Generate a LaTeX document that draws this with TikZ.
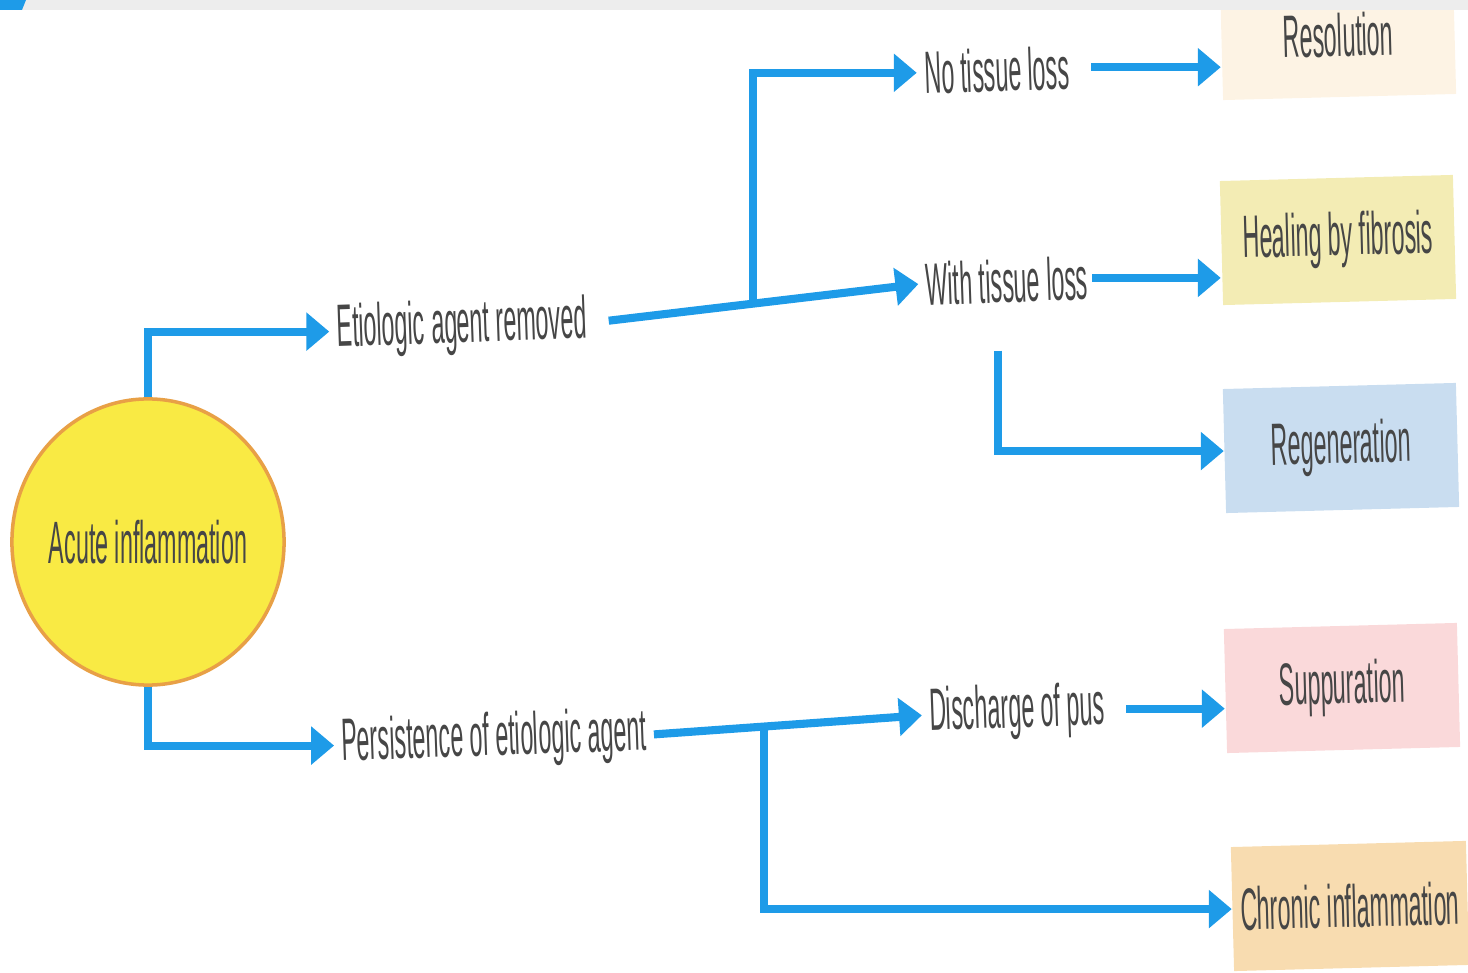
\documentclass[tikz,border=0pt]{standalone}
\usepackage{fontspec}
\setmainfont{Liberation Sans}
\newfontfamily\narrowfont[FakeStretch=0.39]{Liberation Sans}
\usetikzlibrary{positioning,arrows.meta,calc,shapes.geometric}

\definecolor{flowblue}{RGB}{30,155,232}
\definecolor{txtgray}{RGB}{70,70,70}
\definecolor{stripgray}{RGB}{237,237,237}
\definecolor{acuteyellow}{RGB}{249,234,68}
\definecolor{acuterim}{RGB}{232,160,70}
\definecolor{resolfill}{RGB}{253,243,228}
\definecolor{healfill}{RGB}{243,236,180}
\definecolor{regenfill}{RGB}{201,221,240}
\definecolor{suppfill}{RGB}{250,217,218}
\definecolor{chronfill}{RGB}{248,220,176}

\begin{document}
\begin{tikzpicture}[
  x=0.01cm, y=-0.01cm,
  font=\narrowfont\fontsize{17}{20}\selectfont,
  >={Triangle[length=6.5pt,width=10.5pt]},
  flowarrow/.style={->, draw=flowblue, line width=2.3pt},
  steplabel/.style={text=txtgray, inner sep=2pt, rotate=2},
  outcome/.style={minimum width=2.33cm, minimum height=1.24cm, inner sep=0pt, text=txtgray, rotate=1.5}
]
  \useasboundingbox (0,0) rectangle (1468,973);

  % start
  \node[ellipse, draw=acuterim, line width=1pt, fill=acuteyellow, text=txtgray,
        inner xsep=-1.5pt, inner ysep=0pt,
        minimum width=2.72cm, minimum height=2.86cm] (acute) at (148,542) {Acute inflammation};

  % intermediate steps
  \node[steplabel] (removed) at (462,327) {Etiologic agent removed};
  \node[steplabel] (persist) at (494,740) {Persistence of etiologic agent};
  \node[steplabel] (notissue) at (997,70) {No tissue loss};
  \node[steplabel] (withloss) at (1007,281) {With tissue loss};
  \node[steplabel] (discharge) at (1017,712) {Discharge of pus};

  % outcomes
  \node[outcome, fill=resolfill] (resol) at (1338,35) {Resolution};
  \node[outcome, fill=healfill] (heal) at (1338,240) {Healing by fibrosis};
  \node[outcome, fill=regenfill] (regen) at (1341,448) {Regeneration};
  \node[outcome, fill=suppfill] (supp) at (1342,688) {Suppuration};
  \node[outcome, fill=chronfill, minimum width=2.35cm] (chron) at (1350,906) {Chronic inflammation};

  % branch points
  \coordinate (upsplit) at ($(removed.east)!0.49!(withloss.west)$);
  \coordinate (lowsplit) at ($(persist.east)!0.41!(discharge.west)$);
  \coordinate (regtop) at ($(withloss.south)+(-10,40)$);

  \draw[flowarrow] (acute.north) |- (removed.west);
  \draw[flowarrow] (acute.south) |- (persist.west);
  \draw[flowarrow, shorten <=4pt] (removed.east) -- (withloss.west);
  \draw[flowarrow] (upsplit) |- (notissue.west);
  \draw[flowarrow, shorten <=4pt] (notissue.east) -- (notissue.east -| resol.west);
  \draw[flowarrow, shorten <=-1pt] (withloss.east) -- (withloss.east -| heal.west);
  \draw[flowarrow] (regtop) |- (regen.west);
  \draw[flowarrow] (persist.east) -- (discharge.west);
  \draw[flowarrow] (lowsplit) |- (chron.west);
  \draw[flowarrow, shorten <=4pt] (discharge.east) -- (discharge.east -| supp.west);

  % page strip on top
  \fill[stripgray] (0,0) rectangle (1468,10);
  \fill[flowblue] (0,0) -- (26,0) -- (22,10) -- (0,10) -- cycle;
\end{tikzpicture}
\end{document}
